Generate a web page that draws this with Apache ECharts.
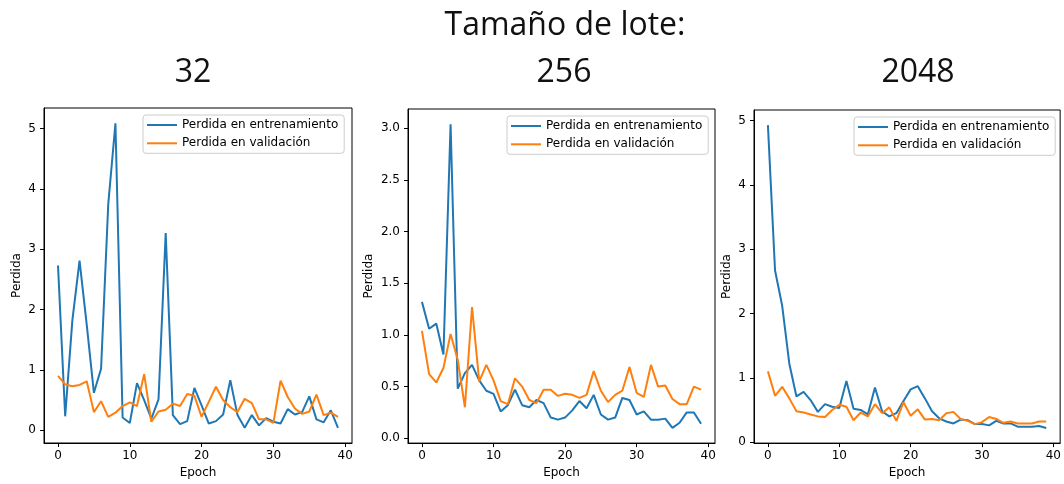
<!DOCTYPE html>
<html>
<head>
<meta charset="utf-8">
<script src="https://cdn.jsdelivr.net/npm/echarts@6/dist/echarts.min.js"></script>
<style>
html,body{margin:0;padding:0;background:#fff;}
#chart{width:1064px;height:484px;}
</style>
</head>
<body>
<div id="chart"></div>
<script>
// ---- data ----
const mainTitle = 'Tamaño de lote:';
const batchSizes = ['32', '256', '2048'];
const seriesNames = ['Perdida en entrenamiento', 'Perdida en validación'];
const xTicks = [0, 10, 20, 30, 40];
const yTicks32 = [0, 1, 2, 3, 4, 5];
const yTicks256 = [0, 0.5, 1, 1.5, 2, 2.5, 3];
const yTicks2048 = [0, 1, 2, 3, 4, 5];

const train32 = [2.73,0.23,1.82,2.81,1.75,0.62,1.02,3.75,5.09,0.21,0.12,0.78,0.5,0.19,0.51,3.27,0.25,0.1,0.15,0.7,0.41,0.11,0.15,0.26,0.83,0.25,0.04,0.25,0.08,0.2,0.14,0.11,0.35,0.26,0.3,0.56,0.18,0.13,0.33,0.04];
const val32 = [0.9,0.76,0.73,0.75,0.81,0.3,0.48,0.22,0.29,0.4,0.46,0.4,0.93,0.14,0.31,0.34,0.44,0.4,0.6,0.57,0.22,0.47,0.72,0.5,0.38,0.3,0.52,0.45,0.18,0.18,0.12,0.82,0.55,0.36,0.27,0.31,0.59,0.25,0.29,0.22];
const train256 = [1.32,1.06,1.11,0.81,3.04,0.48,0.63,0.71,0.56,0.46,0.43,0.26,0.32,0.47,0.32,0.3,0.37,0.34,0.2,0.18,0.2,0.27,0.36,0.29,0.42,0.23,0.18,0.2,0.39,0.37,0.23,0.26,0.18,0.18,0.19,0.1,0.15,0.25,0.25,0.14];
const val256 = [1.04,0.62,0.54,0.68,1.01,0.76,0.3,1.27,0.55,0.71,0.56,0.36,0.33,0.58,0.5,0.37,0.34,0.47,0.47,0.41,0.43,0.42,0.39,0.42,0.65,0.46,0.35,0.42,0.46,0.69,0.44,0.4,0.71,0.5,0.51,0.38,0.33,0.33,0.5,0.47];
const train2048 = [4.93,2.67,2.12,1.22,0.71,0.78,0.65,0.47,0.59,0.55,0.53,0.95,0.52,0.5,0.43,0.85,0.48,0.4,0.45,0.64,0.82,0.87,0.68,0.48,0.37,0.32,0.29,0.35,0.34,0.28,0.28,0.26,0.33,0.29,0.29,0.24,0.24,0.24,0.25,0.22];
const val2048 = [1.1,0.72,0.86,0.68,0.48,0.46,0.43,0.4,0.39,0.5,0.58,0.55,0.34,0.46,0.4,0.59,0.45,0.54,0.33,0.62,0.41,0.51,0.35,0.36,0.34,0.45,0.47,0.36,0.33,0.28,0.31,0.39,0.36,0.3,0.32,0.29,0.29,0.29,0.32,0.32];

// ---- chart ----
const panels = [
  {train: train32, val: val32, yTicks: yTicks32, grid: {left: 44, top: 108, width: 308, height: 335}, nameGap: 21, fmt: v => String(v), legend: {left: 143, top: 115}, titleX: 188},
  {train: train256, val: val256, yTicks: yTicks256, grid: {left: 408, top: 109, width: 307, height: 335}, nameGap: 33, fmt: v => v.toFixed(1), legend: {left: 507, top: 116}, titleX: 559},
  {train: train2048, val: val2048, yTicks: yTicks2048, grid: {left: 754, top: 110, width: 308, height: 334}, nameGap: 21, fmt: v => String(v), legend: {left: 854, top: 117}, titleX: 913}
];
const colors = ['#1f77b4', '#ff7f0e'];
const axFont = 'DejaVu Sans';

function margins(arrs) {
  let lo = Infinity, hi = -Infinity;
  arrs.forEach(a => a.forEach(v => { lo = Math.min(lo, v); hi = Math.max(hi, v); }));
  const m = (hi - lo) * 0.05;
  return [lo - m, hi + m];
}

const grids = [], xAxes = [], yAxes = [], series = [], legends = [];
const titles = [{
  text: mainTitle, left: 560, top: 5, textAlign: 'center',
  textStyle: {fontFamily: 'Open Sans', fontSize: 32, fontWeight: 'normal', color: '#111'}
}];

panels.forEach((p, i) => {
  const epochs = p.train.map((_, k) => k);
  grids.push(Object.assign({show: true, borderColor: '#000', borderWidth: 1, backgroundColor: 'transparent'}, p.grid));
  const xr = margins([epochs]);
  xAxes.push({
    type: 'value', gridIndex: i, min: xr[0], max: xr[1],
    name: 'Epoch', nameLocation: 'middle', nameGap: 23,
    nameTextStyle: {fontFamily: axFont, fontSize: 12, color: '#000'},
    axisLine: {show: true, onZero: false, lineStyle: {color: '#000', width: 1}},
    axisTick: {show: true, length: 4, lineStyle: {color: '#000'}, customValues: xTicks},
    axisLabel: {show: true, margin: 7, fontFamily: axFont, fontSize: 12, color: '#000', customValues: xTicks, formatter: v => String(v)},
    splitLine: {show: false}
  });
  const yr = margins([p.train, p.val]);
  yAxes.push({
    type: 'value', gridIndex: i, min: yr[0], max: yr[1],
    name: 'Perdida', nameLocation: 'middle', nameGap: p.nameGap,
    nameTextStyle: {fontFamily: axFont, fontSize: 12, color: '#000'},
    axisLine: {show: true, onZero: false, lineStyle: {color: '#000', width: 1}},
    axisTick: {show: true, length: 4, lineStyle: {color: '#000'}, customValues: p.yTicks},
    axisLabel: {show: true, margin: 8, fontFamily: axFont, fontSize: 12, color: '#000', customValues: p.yTicks, formatter: p.fmt},
    splitLine: {show: false}
  });
  [p.train, p.val].forEach((arr, j) => {
    series.push({
      type: 'line', name: seriesNames[j], xAxisIndex: i, yAxisIndex: i,
      data: arr.map((v, k) => [epochs[k], v]),
      symbol: 'none', showSymbol: false,
      lineStyle: {color: colors[j], width: 2},
      itemStyle: {color: colors[j]},
      z: 2 + j
    });
  });
  legends.push({
    data: seriesNames, orient: 'vertical', left: p.legend.left, top: p.legend.top,
    selectedMode: false, icon: 'rect', itemWidth: 30, itemHeight: 2, itemGap: 4.3,
    padding: [3, 6, 3, 4],
    backgroundColor: 'rgba(255,255,255,0.8)', borderColor: '#cccccc', borderWidth: 1, borderRadius: 3,
    textStyle: {fontFamily: axFont, fontSize: 12, color: '#000', lineHeight: 14}
  });
  titles.push({
    text: batchSizes[i], left: p.titleX, top: 52, textAlign: 'center',
    textStyle: {fontFamily: 'Open Sans', fontSize: 32, fontWeight: 'normal', color: '#111'}
  });
});

const chart = echarts.init(document.getElementById('chart'), null, {renderer: 'canvas'});
chart.setOption({
  animation: false,
  backgroundColor: '#fff',
  title: titles,
  grid: grids,
  xAxis: xAxes,
  yAxis: yAxes,
  legend: legends,
  series: series
});
</script>
</body>
</html>
